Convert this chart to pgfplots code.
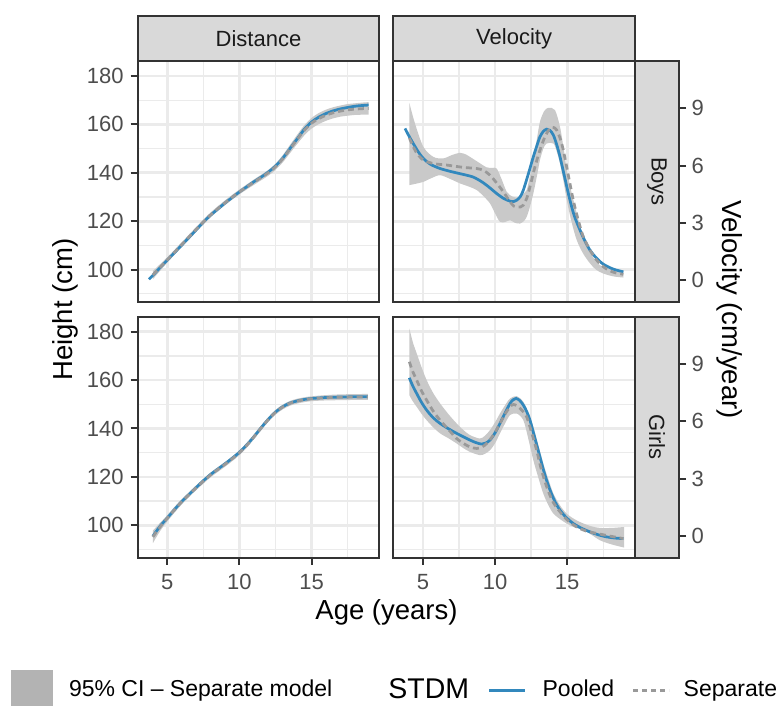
\documentclass[border=0pt]{standalone}
\usepackage{fontspec}
\setmainfont{Liberation Sans}
\usepackage{pgfplots}
\usepackage{pgfplotstable}
\pgfplotsset{compat=1.18}
\usepgfplotslibrary{fillbetween}

\definecolor{gridc}{HTML}{EBEBEB}
\definecolor{frame}{HTML}{333333}
\definecolor{ticklab}{HTML}{4D4D4D}
\definecolor{stripfill}{HTML}{D9D9D9}
\definecolor{striptext}{HTML}{1A1A1A}
\definecolor{pooled}{HTML}{3288BD}
\definecolor{sepc}{HTML}{999999}
\definecolor{bandc}{HTML}{C9C9C9}
\definecolor{bandkey}{HTML}{B3B3B3}

% ---------- data ----------
\pgfplotstableread{
age h
3.73 96.0
4.0 97.6
4.5 100.8
5 103.9
5.5 107.0
6 110.1
6.5 113.2
7 116.4
7.5 119.6
8 122.5
8.5 125.0
9 127.5
9.5 129.8
10 132.1
10.5 134.2
11 136.3
11.5 138.2
12 140.3
12.5 142.8
13 146.0
13.5 150.0
14 154.0
14.5 158.0
15 161.0
15.5 163.0
16 164.5
16.5 165.6
17 166.4
17.5 167.0
18 167.5
18.5 167.8
18.95 168.0
}\boysDistPooled

\pgfplotstableread{
age sep lo hi
4.0 97.8 96.0 99.4
5 104.0 102.9 105.1
6 110.3 109.3 111.3
7 116.6 115.6 117.6
8 122.6 121.6 123.6
9 127.6 126.6 128.6
10 132.1 131.1 133.1
11 136.1 135.0 137.2
12 140.0 138.8 141.2
12.5 142.5 141.2 143.8
13 145.8 144.3 147.3
13.5 149.8 148.1 151.5
14 153.8 151.9 155.7
14.5 157.6 155.5 159.7
15 160.5 158.3 162.7
15.5 162.4 160.1 164.7
16 163.8 161.5 166.1
16.5 164.8 162.5 167.1
17 165.5 163.2 167.8
17.5 166.0 163.6 168.4
18 166.3 163.9 168.7
18.5 166.5 164.0 169.0
18.95 166.6 164.0 169.2
}\boysDistSep

\pgfplotstableread{
age h
4.0 95.5
4.5 99.6
5 103.0
5.5 106.5
6 109.8
6.5 112.7
7 115.6
7.5 118.4
8 121.0
8.5 123.2
9 125.4
9.5 127.7
10 130.2
10.5 133.2
11 136.6
11.5 140.3
12 143.8
12.5 146.8
13 149.0
13.5 150.5
14 151.4
14.5 152.0
15 152.4
16 152.8
17 153.0
18 153.1
18.89 153.1
}\girlsDistPooled

\pgfplotstableread{
age sep lo hi
4.0 95.2 92.6 97.8
4.5 99.3 97.6 101.0
5 102.9 101.6 104.2
5.5 106.4 105.2 107.6
6 109.7 108.6 110.8
7 115.5 114.5 116.5
8 120.8 119.8 121.8
9 125.2 124.2 126.2
9.5 127.5 126.5 128.5
10 130.0 129.0 131.0
10.5 133.0 132.0 134.0
11 136.5 135.5 137.5
11.5 140.2 139.2 141.2
12 143.7 142.7 144.7
12.5 146.7 145.7 147.7
13 148.9 147.9 149.9
13.5 150.4 149.4 151.4
14 151.3 150.3 152.3
14.5 151.9 150.9 152.9
15 152.3 151.3 153.3
16 152.7 151.6 153.8
17 152.9 151.7 154.1
18 153.0 151.8 154.2
18.89 153.0 151.8 154.3
}\girlsDistSep

\pgfplotstableread{
age v
3.76 7.95
4.0 7.6
4.33 7.16
4.7 6.7
5.03 6.38
5.5 6.08
6.19 5.85
7.0 5.68
7.57 5.58
8.49 5.40
9.19 5.10
9.7 4.80
10.11 4.54
10.6 4.28
11.04 4.14
11.3 4.12
11.5 4.19
11.75 4.38
11.96 4.72
12.3 5.55
12.65 6.46
12.9 7.05
13.11 7.51
13.35 7.80
13.58 7.91
13.8 7.85
14.04 7.6
14.27 7.1
14.5 6.46
14.85 5.3
15.19 4.19
15.5 3.35
15.89 2.62
16.2 2.1
16.58 1.57
17.0 1.18
17.5 0.84
18.2 0.58
18.89 0.44
}\boysVelPooled

\pgfplotstableread{
age v
4.06 7.45
4.5 6.75
5.03 6.29
5.8 6.1
6.65 6.03
7.8 5.91
8.73 5.85
9.2 5.75
9.65 5.5
10.1 5.1
10.57 4.63
11.0 4.15
11.3 3.88
11.5 3.84
11.75 3.83
11.96 3.93
12.2 4.3
12.42 4.89
12.75 5.9
13.11 6.81
13.45 7.5
13.8 7.95
14.05 8.0
14.27 7.86
14.5 7.45
14.73 6.81
15.05 5.6
15.42 4.19
15.8 3.05
16.12 2.27
16.6 1.55
17.04 1.05
17.6 0.65
18.2 0.42
18.89 0.31
}\boysVelSep

\pgfplotstableread{
age v
4.06 9.29
4.45 8.21
5.03 6.99
5.72 6.46
6.41 6.38
7.0 6.55
7.57 6.67
8.0 6.58
8.26 6.46
8.9 6.15
9.42 5.91
9.8 5.88
10.11 5.85
10.45 5.30
10.81 4.63
11.2 4.38
11.61 4.33
11.9 4.5
12.19 4.72
12.4 5.4
12.65 6.29
12.9 7.4
13.11 8.30
13.4 8.85
13.69 9.03
14.15 8.91
14.5 8.03
14.75 6.9
14.97 5.77
15.3 4.6
15.66 3.50
16.0 2.55
16.35 1.75
16.8 1.2
17.27 0.79
18.0 0.58
18.89 0.49
}\boysVelHi

\pgfplotstableread{
age v
4.06 4.98
4.5 5.05
5.03 5.15
5.6 5.35
6.19 5.5
6.9 5.3
7.57 5.07
8.2 4.9
8.73 4.72
9.2 4.4
9.65 4.02
10.0 3.5
10.34 3.06
10.7 3.05
11.04 3.14
11.4 3.0
11.73 2.97
12.0 3.1
12.19 3.32
12.4 3.8
12.65 4.54
12.9 5.45
13.11 6.29
13.35 6.9
13.58 7.16
14.04 7.16
14.27 6.75
14.5 6.12
14.75 5.15
14.97 4.19
15.3 3.05
15.66 2.10
16.1 1.4
16.58 0.88
17.0 0.55
17.5 0.35
18.2 0.2
18.89 0.14
}\boysVelLo

\pgfplotstableread{
age v
4.06 8.28
4.3 7.85
4.57 7.46
4.9 7.0
5.26 6.59
5.7 6.2
6.19 5.89
6.8 5.6
7.34 5.37
8.26 5.02
8.7 4.88
9.07 4.81
9.35 4.86
9.65 5.02
10.0 5.4
10.34 5.89
10.7 6.45
11.04 6.94
11.25 7.13
11.45 7.2
11.7 7.1
11.96 6.85
12.2 6.5
12.42 6.06
12.75 5.15
13.11 4.14
13.45 3.2
13.81 2.4
14.15 1.8
14.5 1.35
14.95 0.95
15.42 0.65
16.0 0.4
16.58 0.21
17.15 0.06
17.73 -0.05
18.3 -0.11
18.89 -0.14
}\girlsVelPooled

\pgfplotstableread{
age v
4.06 9.12
4.3 8.6
4.57 8.16
4.9 7.6
5.26 7.11
5.7 6.55
6.19 6.06
6.8 5.55
7.34 5.1
7.8 4.85
8.26 4.66
8.73 4.58
9.1 4.66
9.42 4.84
9.9 5.3
10.34 5.89
10.75 6.45
11.15 6.85
11.4 6.86
11.61 6.76
11.9 6.55
12.19 6.24
12.5 5.5
12.88 4.49
13.2 3.5
13.58 2.57
14.0 1.8
14.5 1.26
15.05 0.8
15.66 0.47
16.3 0.26
17.04 0.13
17.9 0.0
18.89 -0.14
}\girlsVelSep

\pgfplotstableread{
age v
4.06 10.87
4.3 10.15
4.57 9.56
4.9 8.85
5.26 8.16
5.7 7.5
6.19 6.94
6.8 6.35
7.34 5.89
7.8 5.55
8.26 5.28
8.95 5.1
9.3 5.25
9.65 5.54
10.0 5.95
10.34 6.41
10.7 6.85
11.04 7.2
11.5 7.32
11.96 7.02
12.3 6.45
12.65 5.71
13.0 4.75
13.34 3.79
13.7 2.95
14.04 2.22
14.5 1.6
14.96 1.17
15.5 0.88
16.12 0.65
16.7 0.5
17.27 0.42
18.1 0.42
18.95 0.47
}\girlsVelHi

\pgfplotstableread{
age v
4.06 7.37
4.3 7.05
4.57 6.76
4.9 6.4
5.26 6.06
5.7 5.7
6.19 5.37
6.8 5.1
7.34 4.84
7.8 4.6
8.26 4.4
8.95 4.23
9.3 4.3
9.65 4.49
10.0 4.85
10.34 5.37
10.7 5.9
11.04 6.33
11.5 6.41
11.96 6.06
12.3 5.1
12.65 3.97
13.0 3.05
13.34 2.22
13.7 1.6
14.04 1.17
14.5 0.88
14.96 0.65
15.5 0.45
16.12 0.3
16.7 0.05
17.27 -0.23
18.1 -0.45
18.95 -0.61
}\girlsVelLo

\pgfplotsset{
  panel/.style={
    scale only axis, width=96.64pt, height=96.4pt, anchor=north west,
    xmin=2.95, xmax=19.69,
    xtick={5,10,15}, minor xtick={7.5,12.5,17.5},
    grid=both,
    major grid style={draw=gridc, line width=1.1pt},
    minor grid style={draw=gridc, line width=0.55pt},
    axis line style={draw=frame, line width=0.9pt},
    tick style={draw=frame, line width=0.8pt},
    major tick length=2.8pt, minor tick length=0pt,
    tick align=outside, xtick pos=bottom, ytick pos=left,
    ticklabel style={font=\fontsize{8.8}{10}\selectfont, text=ticklab, inner sep=0pt},
    xticklabel style={yshift=-3.7pt},
    yticklabel style={xshift=-2.6pt},
    /pgf/number format/assume math mode=true,
  },
  dist/.style={ymin=86.6, ymax=186.2, ytick={100,120,140,160,180},
    minor ytick={90,110,130,150,170}},
  vel/.style={ymin=-1.14, ymax=11.48,
    ytick={0.558,3.092,5.625,8.159,10.692},
    minor ytick={-0.709,1.825,4.358,6.892,9.425},
    yticklabels={}, ytick style={draw=none}},
  notx/.style={xticklabels={}, xtick style={draw=none}},
  pooledline/.style={draw=pooled, line width=1.1pt, smooth, no markers},
  sepline/.style={draw=sepc, line width=1.1pt, dash pattern=on 2.4pt off 1.6pt, smooth, no markers},
  bandline/.style={draw=none, smooth, no markers, forget plot},
  vstrip/.style={
    scale only axis, width=17.6pt, height=96.4pt, anchor=north west,
    xmin=0, xmax=1, ymin=-1.14, ymax=11.48,
    xtick=\empty, ytick={0,3,6,9}, ytick pos=right, tick align=outside,
    major tick length=2.8pt,
    tick style={draw=frame, line width=0.8pt},
    axis line style={draw=frame, line width=0.9pt},
    axis background/.style={fill=stripfill},
    ticklabel style={font=\fontsize{8.8}{10}\selectfont, text=ticklab, inner sep=0pt},
    yticklabel style={xshift=2pt},
    /pgf/number format/assume math mode=true,
    clip=false,
  },
}

\begin{document}
\begin{tikzpicture}

% ---- Boys, Distance ----
\begin{axis}[panel, dist, notx, name=TL, at={(55.08pt,-24.4pt)}]
  \addplot[bandline, name path=bdh] table[x=age, y=hi] {\boysDistSep};
  \addplot[bandline, name path=bdl] table[x=age, y=lo] {\boysDistSep};
  \addplot[fill=bandc, draw=none, forget plot] fill between[of=bdh and bdl];
  \addplot[pooledline] table[x=age, y=h] {\boysDistPooled};
  \addplot[sepline] table[x=age, y=sep] {\boysDistSep};
\end{axis}

% ---- Boys, Velocity ----
\begin{axis}[panel, vel, notx, name=TR, at={(157.32pt,-24.4pt)}]
  \addplot[bandline, name path=bvh] table[x=age, y=v] {\boysVelHi};
  \addplot[bandline, name path=bvl] table[x=age, y=v] {\boysVelLo};
  \addplot[fill=bandc, draw=none, forget plot] fill between[of=bvh and bvl];
  \addplot[pooledline] table[x=age, y=v] {\boysVelPooled};
  \addplot[sepline] table[x=age, y=v] {\boysVelSep};
\end{axis}

% ---- Girls, Distance ----
\begin{axis}[panel, dist, name=BL, at={(55.08pt,-126.68pt)}]
  \addplot[bandline, name path=gdh] table[x=age, y=hi] {\girlsDistSep};
  \addplot[bandline, name path=gdl] table[x=age, y=lo] {\girlsDistSep};
  \addplot[fill=bandc, draw=none, forget plot] fill between[of=gdh and gdl];
  \addplot[pooledline] table[x=age, y=h] {\girlsDistPooled};
  \addplot[sepline] table[x=age, y=sep] {\girlsDistSep};
\end{axis}

% ---- Girls, Velocity ----
\begin{axis}[panel, vel, name=BR, at={(157.32pt,-126.68pt)}]
  \addplot[bandline, name path=gvh] table[x=age, y=v] {\girlsVelHi};
  \addplot[bandline, name path=gvl] table[x=age, y=v] {\girlsVelLo};
  \addplot[fill=bandc, draw=none, forget plot] fill between[of=gvh and gvl];
  \addplot[pooledline] table[x=age, y=v] {\girlsVelPooled};
  \addplot[sepline] table[x=age, y=v] {\girlsVelSep};
\end{axis}

% ---- right strips with velocity axis ----
\begin{axis}[vstrip, at={(254pt,-24.4pt)}]
  \addplot[draw=none, no markers, forget plot] coordinates {(0,0) (1,1)};
  \node[rotate=-90, font=\fontsize{8.8}{10}\selectfont, text=striptext] at (rel axis cs:0.5,0.5) {Boys};
\end{axis}
\begin{axis}[vstrip, at={(254pt,-126.68pt)}]
  \addplot[draw=none, no markers, forget plot] coordinates {(0,0) (1,1)};
  \node[rotate=-90, font=\fontsize{8.8}{10}\selectfont, text=striptext] at (rel axis cs:0.5,0.5) {Girls};
\end{axis}

% ---- top strips ----
\draw[fill=stripfill, draw=frame, line width=0.9pt] (TL.north west) rectangle ([yshift=18pt]TL.north east);
\node[font=\fontsize{8.8}{10}\selectfont, text=striptext] at ([yshift=9pt]TL.north) {Distance};
\draw[fill=stripfill, draw=frame, line width=0.9pt] (TR.north west) rectangle ([yshift=18pt]TR.north east);
\node[font=\fontsize{8.8}{10}\selectfont, text=striptext] at ([yshift=9pt]TR.north) {Velocity};

% ---- axis titles ----
\node[rotate=90, anchor=base, font=\fontsize{11}{13}\selectfont] at (29.1pt,-123.84pt) {Height (cm)};
\node[anchor=base, font=\fontsize{11}{13}\selectfont] at (154.6pt,-247.72pt) {Age (years)};
\node[rotate=-90, anchor=base, font=\fontsize{11}{13}\selectfont] at (288.8pt,-123.84pt) {Velocity (cm/year)};

% ---- legend ----
\begin{axis}[hide axis, scale only axis, width=10pt, height=10pt,
  at={(4.4pt,-276.2pt)}, anchor=west, xmin=0, xmax=1, ymin=0, ymax=1,
  legend columns=-1,
  legend style={at={(0,0.5)}, anchor=west, draw=none, fill=none,
    inner sep=0pt, outer sep=0pt,
    /tikz/column sep=0pt,
    nodes={inner sep=0pt, font=\fontsize{9.2}{11}\selectfont},
    cells={anchor=west}},
  ]
  \addplot[draw=none, no markers, forget plot] coordinates {(0,0) (1,1)};
  \addlegendimage{legend image code/.code={\fill[bandkey] (0pt,-8.2pt) rectangle (16.4pt,8.2pt);}}
  \addlegendentry{\hspace{6.4pt}95\% CI – Separate model}
  \addlegendimage{empty legend}
  \addlegendentry{\hspace{22.4pt}{\fontsize{11.4}{13}\selectfont STDM}}
  \addlegendimage{legend image code/.code={\path[draw=none] (0pt,0pt) -- (22.4pt,0pt); \draw[pooled, solid, line width=1.2pt] (8pt,0pt) -- (22.4pt,0pt);}}
  \addlegendentry{\hspace{6.4pt}Pooled}
  \addlegendimage{legend image code/.code={\path[draw=none] (0pt,0pt) -- (22pt,0pt); \draw[sepc, line width=1.2pt, dash pattern=on 2pt off 1.6pt] (7.6pt,0pt) -- (22pt,0pt);}}
  \addlegendentry{\hspace{5.2pt}Separate}
\end{axis}

\pgfresetboundingbox
\path[use as bounding box] (0,0) rectangle (312pt,-282.4pt);
\end{tikzpicture}
\end{document}
